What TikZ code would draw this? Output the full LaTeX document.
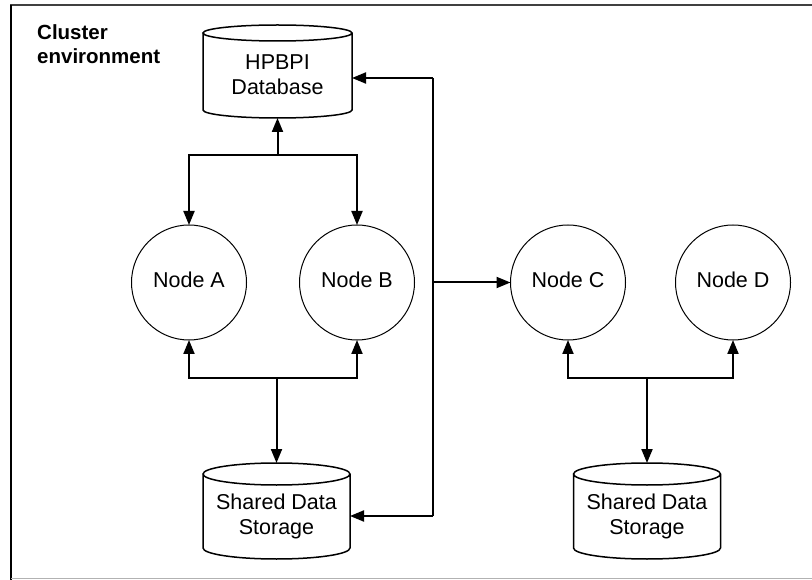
\documentclass[tikz,border=0pt]{standalone}
\usepackage{fontspec}
\setmainfont{Liberation Sans}
\usetikzlibrary{arrows.meta}
\begin{document}
\begin{tikzpicture}[x=1pt,y=-1pt,
  conn/.style={line width=2pt, black},
  arr/.style={conn, -{Triangle[length=14pt,width=11pt]}},
  arrboth/.style={conn, {Triangle[length=14pt,width=11pt]}-{Triangle[length=14pt,width=11pt]}},
  machine/.style={circle, draw, line width=1pt, minimum size=115pt, inner sep=0pt, outer sep=0pt, font=\fontsize{21.5}{25}\selectfont, text depth=5pt},
  cylbox/.style={rectangle, inner sep=0pt, outer sep=0pt},
  cyltext/.style={align=center, inner sep=0pt, font=\fontsize{21.5}{25}\selectfont},
  cylline/.style={line width=1.5pt, black},
  titletext/.style={align=left, inner sep=0pt, anchor=north west, font=\fontsize{20.5}{24}\selectfont\bfseries}
]
\useasboundingbox (0,0) rectangle (812,580);
% frame
\draw[line width=2pt, color=black!75] (10,5) -- (812,5);
\draw[line width=2pt, black] (11,5) -- (11,580);
\draw[line width=1pt, black!30] (11,578.5) -- (812,578.5);

\node[titletext] (title) at (37,24) {Cluster\\environment};

% databases / storage
\node[cylbox, minimum width=149pt, minimum height=93pt,
  label={[cyltext,yshift=-3.6pt]center:HPBPI\\Database}] (db) at (277.5,71.5) {};
\node[cylbox, minimum width=147pt, minimum height=96pt,
  label={[cyltext,yshift=-5pt]center:Shared Data\\Storage}] (st1) at (276.5,511) {};
\node[cylbox, minimum width=147pt, minimum height=96pt,
  label={[cyltext,yshift=-5pt]center:Shared Data\\Storage}] (st2) at (647,511) {};

\draw[cylline] ([yshift=-8pt]db.north west) -- ([yshift=8pt]db.south west)
  arc[start angle=180,end angle=360,x radius=74.5pt,y radius=8pt]
  -- ([yshift=-8pt]db.north east)
  arc[start angle=0,end angle=180,x radius=74.5pt,y radius=8pt]
  arc[start angle=180,end angle=360,x radius=74.5pt,y radius=8pt];
\foreach \s in {st1,st2}{
\draw[cylline] ([yshift=-11pt]\s.north west) -- ([yshift=11pt]\s.south west)
  arc[start angle=180,end angle=360,x radius=73.5pt,y radius=11pt]
  -- ([yshift=-11pt]\s.north east)
  arc[start angle=0,end angle=180,x radius=73.5pt,y radius=11pt]
  arc[start angle=180,end angle=360,x radius=73.5pt,y radius=11pt];
}

% machines
\node[machine] (A) at (189,282.5) {Node A};
\node[machine] (B) at (357,282.5) {Node B};
\node[machine] (C) at (568,282.5) {Node C};
\node[machine] (D) at (733,282.5) {Node D};

% junction coordinates
\coordinate (jt) at (277.5,155);
\coordinate (jb) at (276.5,378);
\coordinate (jc) at (647,378);
\coordinate (r1) at (433,78);
\coordinate (r2) at (433,516);
\coordinate (r3) at (433,282.5);

% connectors
\draw[arrboth] (A.north) |- (jt) -- (db.south);
\draw[arr] (jt) -| (B.north);
\draw[arrboth] (A.south) |- (jb) -- (st1.north);
\draw[arr] (jb) -| (B.south);
\draw[conn] (r1) -- (r2);
\draw[arr] (r1) -- (r1 -| db.east);
\draw[arr] (r2) -- (r2 -| st1.east);
\draw[arr] (r3) -- (C.west);
\draw[arrboth] (C.south) |- (jc) -- (st2.north);
\draw[arr] (jc) -| (D.south);
\end{tikzpicture}
\end{document}
